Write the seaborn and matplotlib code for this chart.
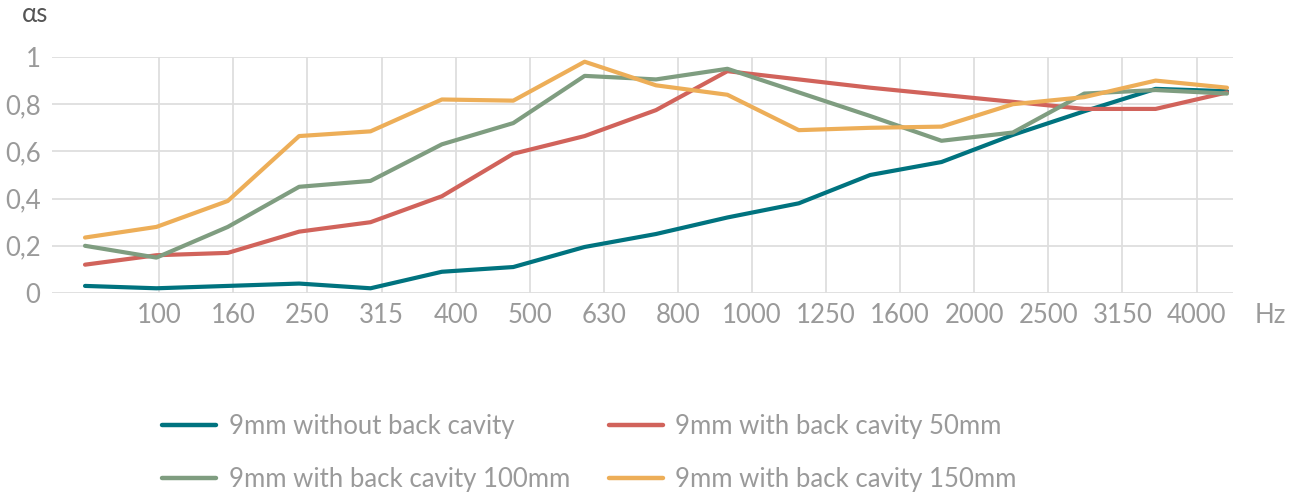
import numpy as np
import pandas as pd
import seaborn as sns
import matplotlib.pyplot as plt
from matplotlib.lines import Line2D

# measured points (17 per series, evenly spaced)
point_idx = list(range(17))
no_cavity = [0.03, 0.02, 0.03, 0.04, 0.02, 0.09, 0.11, 0.195, 0.25, 0.32, 0.38, 0.50, 0.555, 0.67, 0.77, 0.865, 0.855]
cavity_50 = [0.12, 0.16, 0.17, 0.26, 0.30, 0.41, 0.59, 0.665, 0.775, 0.94, 0.905, 0.87, 0.84, 0.81, 0.78, 0.78, 0.85]
cavity_100 = [0.20, 0.15, 0.28, 0.45, 0.475, 0.63, 0.72, 0.92, 0.905, 0.95, 0.85, 0.75, 0.645, 0.68, 0.845, 0.86, 0.845]
cavity_150 = [0.235, 0.28, 0.39, 0.665, 0.685, 0.82, 0.815, 0.98, 0.88, 0.84, 0.69, 0.70, 0.705, 0.80, 0.83, 0.90, 0.87]

freq_labels = ['100', '160', '250', '315', '400', '500', '630', '800', '1000',
               '1250', '1600', '2000', '2500', '3150', '4000']
series_names = ['9mm without back cavity', '9mm with back cavity 50mm',
                '9mm with back cavity 100mm', '9mm with back cavity 150mm']
colors = ['#00737f', '#d1635b', '#7f9d80', '#edae58']

df = pd.DataFrame({
    'x': point_idx * 4,
    'alpha': no_cavity + cavity_50 + cavity_100 + cavity_150,
    'series': sum([[n] * 17 for n in series_names], []),
})

sns.set_style('white')
plt.rcParams['font.family'] = ['Lato', 'DejaVu Sans']

fig = plt.figure(figsize=(13.03, 4.96), dpi=100)
ax = fig.add_axes([51.7 / 1303, 1 - 293 / 496, (1232.7 - 51.7) / 1303, 236 / 496])

sns.lineplot(data=df, x='x', y='alpha', hue='series', palette=colors,
             hue_order=series_names, linewidth=3, legend=False, ax=ax,
             solid_capstyle='round', sort=False)
ax.set_zorder(1)

ax.set_xlim(-0.467, 16.08)
ax.set_ylim(0, 1)

tick_pos = 1.041 + 1.038 * np.arange(len(freq_labels))
ax.set_xticks(tick_pos)
ax.set_xticklabels(freq_labels)
ax.set_yticks([0, 0.2, 0.4, 0.6, 0.8, 1])
ax.set_yticklabels(['0', '0,2', '0,4', '0,6', '0,8', '1'])

grey = '#9a9a9a'
fs = 18.5
for lab in ax.get_xticklabels() + ax.get_yticklabels():
    lab.set_fontsize(fs)
    lab.set_color(grey)
ax.tick_params(axis='x', length=0, pad=7)
ax.tick_params(axis='y', length=0, pad=8)

ax.grid(True, color='#dedede', linewidth=1.3)
ax.set_axisbelow(True)
for s in ax.spines.values():
    s.set_visible(False)
ax.set_xlabel('')
ax.set_ylabel('')

ax.annotate('Hz', xy=(1.041 + 1.038 * 15, 0), xycoords='data',
            xytext=(0, -7), textcoords='offset points', ha='center', va='top',
            fontsize=fs, color=grey, annotation_clip=False)
fig.text(22 / 1303, 1 - 15 / 496, 'αs', ha='left', va='center', fontsize=fs,
         color='#555555')

handles = [Line2D([0], [0], color=c, lw=3.2, solid_capstyle='round') for c in colors]
order = [0, 2, 1, 3]
fig.legend([handles[i] for i in order], [series_names[i] for i in order],
           ncol=2, loc='center left', bbox_to_anchor=(162 / 1303, 1 - 453 / 496),
           frameon=False, borderpad=0, borderaxespad=0, handlelength=2.1,
           handletextpad=0.5, columnspacing=1.5, labelspacing=1.1,
           prop={'size': fs}, labelcolor=grey)

fig.savefig('out.png', dpi=100)
